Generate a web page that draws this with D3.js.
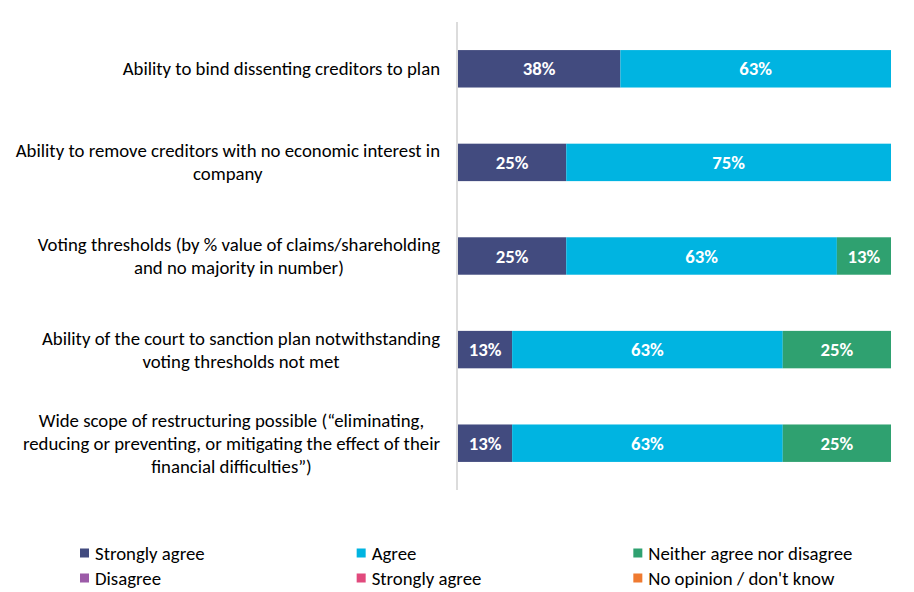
<!DOCTYPE html>
<html>
<head>
<meta charset="utf-8">
<script src="https://cdn.jsdelivr.net/npm/d3@7"></script>
<style>
  body { margin: 0; background: #fff; }
  svg { font-family: Carlito, Calibri, Lato, sans-serif; }
</style>
</head>
<body>
<svg id="chart"></svg>
<script>
const categories = [
  'Ability to bind dissenting creditors to plan',
  'Ability to remove creditors with no economic interest in\ncompany',
  'Voting thresholds (by % value of claims/shareholding\nand no majority in number)',
  'Ability of the court to sanction plan notwithstanding\nvoting thresholds not met',
  'Wide scope of restructuring possible (\u201celiminating,\nreducing or preventing, or mitigating the effect of their\nfinancial difficulties\u201d)'
]
const seriesNames = ['Strongly agree', 'Agree', 'Neither agree nor disagree', 'Disagree', 'Strongly agree ', 'No opinion / don\'t know']
const stronglyAgree = [37.5, 25, 25, 12.5, 12.5]
const agree = [62.5, 75, 62.5, 62.5, 62.5]
const neither = [0, 0, 12.5, 25, 25]
const disagree = [0, 0, 0, 0, 0]
const stronglyDisagree = [0, 0, 0, 0, 0]
const noOpinion = [0, 0, 0, 0, 0]
const colors = ['#424b7f', '#00b4e1', '#2fa170', '#9c5ba8', '#e14a7d', '#ef7a30']

const width = 914
const height = 592
const margin = { top: 22, bottom: 102, left: 458, right: 23 }
const fontSize = 18.8

const svg = d3.select('#chart').attr('width', width).attr('height', height)

// build rows for the stack
const seriesValues = [stronglyAgree, agree, neither, disagree, stronglyDisagree, noOpinion]
const rows = categories.map((c, i) => {
  const r = { category: c }
  seriesNames.forEach((s, j) => { r[s] = seriesValues[j][i] })
  return r
})
const stacked = d3.stack().keys(seriesNames)(rows)

/** Scales */
const x = d3.scaleLinear()
  .domain([0, 100])
  .range([margin.left, width - margin.right])

const y = d3.scaleBand()
  .domain(categories)
  .range([margin.top, height - margin.bottom])

const barH = y.bandwidth() * 0.4
const color = d3.scaleOrdinal().domain(seriesNames).range(colors)

// axis line
svg.append('line')
  .attr('x1', margin.left - 1).attr('x2', margin.left - 1)
  .attr('y1', margin.top).attr('y2', height - margin.bottom)
  .attr('stroke', '#d0d0d0')
  .attr('stroke-width', 1.5)

// bars
const layer = svg.selectAll('g.layer')
  .data(stacked)
  .enter()
  .append('g')
  .attr('class', 'layer')
  .attr('fill', d => color(d.key))

layer.selectAll('rect')
  .data(d => d.filter(p => p[1] - p[0] > 0))
  .enter()
  .append('rect')
  .attr('x', d => x(d[0]))
  .attr('y', d => y(d.data.category) + (y.bandwidth() - barH) / 2)
  .attr('width', d => x(d[1]) - x(d[0]))
  .attr('height', barH)

layer.selectAll('text')
  .data(d => d.filter(p => p[1] - p[0] > 0))
  .enter()
  .append('text')
  .attr('x', d => (x(d[0]) + x(d[1])) / 2)
  .attr('y', d => y(d.data.category) + y.bandwidth() / 2)
  .attr('dy', '0.35em')
  .attr('text-anchor', 'middle')
  .attr('fill', '#fff')
  .attr('font-weight', 'bold')
  .attr('font-size', fontSize)
  .text(d => Math.round(d[1] - d[0]) + '%')

// category labels, wrapped lines centred on the longest line
const lineH = 23
const labelRight = 440
categories.forEach(c => {
  const lines = c.split('\n')
  const t = svg.append('text')
    .attr('text-anchor', 'middle')
    .attr('font-size', fontSize)
    .attr('fill', '#000')
  const cy = y(c) + y.bandwidth() / 2
  lines.forEach((l, i) => {
    t.append('tspan')
      .attr('y', cy + (i - (lines.length - 1) / 2) * lineH)
      .attr('dy', '0.35em')
      .text(l)
  })
  let maxW = 0
  t.selectAll('tspan').each(function () { maxW = Math.max(maxW, this.getComputedTextLength()) })
  t.selectAll('tspan').attr('x', labelRight - maxW / 2)
})

/** Legend */
const legendX = d3.scaleBand().domain([0, 1, 2]).range([80, 910])
const legendY = d3.scaleBand().domain([0, 1]).range([541, 591])
const legend = svg.selectAll('g.legend')
  .data(seriesNames)
  .enter()
  .append('g')
  .attr('class', 'legend')
  .attr('transform', (d, i) => `translate(${legendX(i % 3)},${legendY(Math.floor(i / 3)) + legendY.bandwidth() / 2})`)

legend.append('rect')
  .attr('x', 0).attr('y', -5)
  .attr('width', 9).attr('height', 9)
  .attr('fill', d => color(d))

legend.append('text')
  .attr('x', 15)
  .attr('dy', '0.35em')
  .attr('font-size', fontSize)
  .attr('fill', '#000')
  .text(d => d.trim())
</script>
</body>
</html>
